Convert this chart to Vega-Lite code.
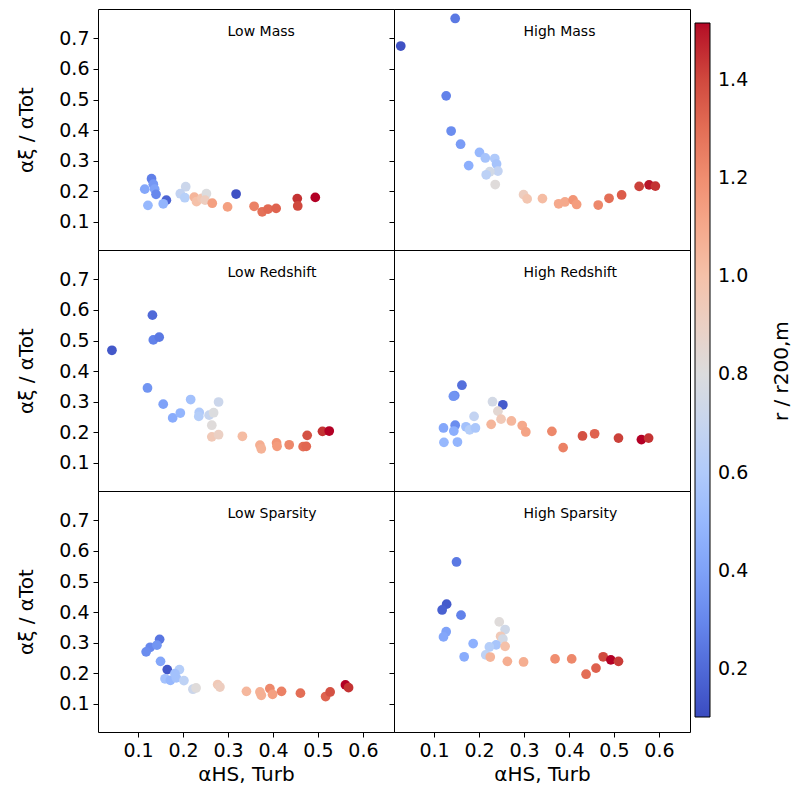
{
  "$schema": "https://vega.github.io/schema/vega-lite/v6.json",
  "background": "white",
  "padding": {"left": 16, "top": 8, "right": 0, "bottom": 0},
  "datasets": {
    "lm": [
      {"x":0.130,"y":0.241,"r":0.27},{"x":0.115,"y":0.207,"r":0.42},{"x":0.134,"y":0.223,"r":0.36},{"x":0.137,"y":0.207,"r":0.40},
      {"x":0.140,"y":0.190,"r":0.30},{"x":0.122,"y":0.154,"r":0.50},{"x":0.163,"y":0.171,"r":0.18},{"x":0.156,"y":0.159,"r":0.48},
      {"x":0.206,"y":0.215,"r":0.72},{"x":0.194,"y":0.192,"r":0.68},{"x":0.204,"y":0.179,"r":0.63},{"x":0.225,"y":0.181,"r":1.05},
      {"x":0.230,"y":0.166,"r":1.00},{"x":0.242,"y":0.177,"r":0.97},{"x":0.252,"y":0.192,"r":0.80},{"x":0.249,"y":0.171,"r":0.92},
      {"x":0.265,"y":0.161,"r":1.14},{"x":0.318,"y":0.191,"r":0.12},{"x":0.299,"y":0.149,"r":1.14},{"x":0.358,"y":0.151,"r":1.24},
      {"x":0.376,"y":0.133,"r":1.29},{"x":0.389,"y":0.142,"r":1.31},{"x":0.407,"y":0.144,"r":1.33},{"x":0.454,"y":0.176,"r":1.45},
      {"x":0.455,"y":0.152,"r":1.40},{"x":0.494,"y":0.180,"r":1.52}
    ],
    "hm": [
      {"x":0.026,"y":0.675,"r":0.12},{"x":0.147,"y":0.765,"r":0.25},{"x":0.127,"y":0.512,"r":0.28},{"x":0.138,"y":0.397,"r":0.32},
      {"x":0.159,"y":0.354,"r":0.38},{"x":0.177,"y":0.284,"r":0.45},{"x":0.201,"y":0.327,"r":0.50},{"x":0.214,"y":0.309,"r":0.56},
      {"x":0.235,"y":0.307,"r":0.60},{"x":0.239,"y":0.289,"r":0.56},{"x":0.242,"y":0.266,"r":0.68},{"x":0.224,"y":0.264,"r":0.75},
      {"x":0.216,"y":0.254,"r":0.65},{"x":0.236,"y":0.222,"r":0.82},{"x":0.299,"y":0.189,"r":0.92},{"x":0.307,"y":0.175,"r":0.97},
      {"x":0.341,"y":0.176,"r":1.02},{"x":0.377,"y":0.159,"r":1.10},{"x":0.391,"y":0.165,"r":1.10},{"x":0.409,"y":0.172,"r":1.18},
      {"x":0.417,"y":0.157,"r":1.15},{"x":0.465,"y":0.155,"r":1.22},{"x":0.489,"y":0.177,"r":1.30},{"x":0.517,"y":0.188,"r":1.35},
      {"x":0.556,"y":0.216,"r":1.42},{"x":0.578,"y":0.221,"r":1.50},{"x":0.592,"y":0.217,"r":1.45}
    ],
    "lr": [
      {"x":0.042,"y":0.468,"r":0.14},{"x":0.132,"y":0.583,"r":0.20},{"x":0.134,"y":0.502,"r":0.28},{"x":0.147,"y":0.511,"r":0.25},
      {"x":0.121,"y":0.345,"r":0.35},{"x":0.156,"y":0.292,"r":0.40},{"x":0.177,"y":0.247,"r":0.44},{"x":0.194,"y":0.263,"r":0.48},
      {"x":0.217,"y":0.307,"r":0.55},{"x":0.236,"y":0.265,"r":0.60},{"x":0.235,"y":0.252,"r":0.62},{"x":0.258,"y":0.256,"r":0.70},
      {"x":0.268,"y":0.264,"r":0.80},{"x":0.279,"y":0.299,"r":0.72},{"x":0.264,"y":0.223,"r":0.82},{"x":0.264,"y":0.185,"r":0.95},
      {"x":0.279,"y":0.192,"r":0.90},{"x":0.332,"y":0.187,"r":1.02},{"x":0.371,"y":0.158,"r":1.08},{"x":0.374,"y":0.146,"r":1.06},
      {"x":0.408,"y":0.165,"r":1.18},{"x":0.409,"y":0.154,"r":1.16},{"x":0.436,"y":0.159,"r":1.22},{"x":0.467,"y":0.153,"r":1.30},
      {"x":0.474,"y":0.154,"r":1.32},{"x":0.476,"y":0.190,"r":1.38},{"x":0.510,"y":0.203,"r":1.45},{"x":0.525,"y":0.204,"r":1.52}
    ],
    "hr": [
      {"x":0.162,"y":0.354,"r":0.22},{"x":0.146,"y":0.320,"r":0.32},{"x":0.143,"y":0.318,"r":0.35},{"x":0.253,"y":0.290,"r":0.15},
      {"x":0.230,"y":0.300,"r":0.76},{"x":0.242,"y":0.269,"r":0.85},{"x":0.189,"y":0.252,"r":0.68},{"x":0.121,"y":0.214,"r":0.42},
      {"x":0.147,"y":0.223,"r":0.32},{"x":0.144,"y":0.204,"r":0.45},{"x":0.171,"y":0.218,"r":0.55},{"x":0.179,"y":0.208,"r":0.62},
      {"x":0.192,"y":0.214,"r":0.58},{"x":0.122,"y":0.167,"r":0.50},{"x":0.152,"y":0.168,"r":0.48},{"x":0.227,"y":0.226,"r":1.05},
      {"x":0.249,"y":0.243,"r":0.95},{"x":0.272,"y":0.237,"r":1.04},{"x":0.296,"y":0.222,"r":1.10},{"x":0.304,"y":0.201,"r":1.12},
      {"x":0.362,"y":0.203,"r":1.22},{"x":0.387,"y":0.150,"r":1.24},{"x":0.430,"y":0.188,"r":1.38},{"x":0.457,"y":0.195,"r":1.33},
      {"x":0.510,"y":0.181,"r":1.42},{"x":0.561,"y":0.176,"r":1.52},{"x":0.577,"y":0.181,"r":1.45}
    ],
    "ls": [
      {"x":0.148,"y":0.311,"r":0.24},{"x":0.127,"y":0.285,"r":0.30},{"x":0.118,"y":0.270,"r":0.32},{"x":0.142,"y":0.292,"r":0.35},
      {"x":0.150,"y":0.239,"r":0.42},{"x":0.165,"y":0.212,"r":0.14},{"x":0.160,"y":0.182,"r":0.55},{"x":0.172,"y":0.177,"r":0.50},
      {"x":0.185,"y":0.185,"r":0.55},{"x":0.192,"y":0.212,"r":0.62},{"x":0.202,"y":0.176,"r":0.66},{"x":0.182,"y":0.199,"r":0.55},
      {"x":0.222,"y":0.148,"r":0.72},{"x":0.229,"y":0.152,"r":0.82},{"x":0.277,"y":0.163,"r":0.95},{"x":0.282,"y":0.155,"r":0.92},
      {"x":0.341,"y":0.141,"r":1.04},{"x":0.371,"y":0.139,"r":1.07},{"x":0.374,"y":0.128,"r":1.07},{"x":0.393,"y":0.150,"r":1.22},
      {"x":0.399,"y":0.131,"r":1.14},{"x":0.419,"y":0.141,"r":1.24},{"x":0.461,"y":0.135,"r":1.30},{"x":0.517,"y":0.124,"r":1.33},
      {"x":0.527,"y":0.139,"r":1.38},{"x":0.561,"y":0.162,"r":1.52},{"x":0.568,"y":0.153,"r":1.45}
    ],
    "hs": [
      {"x":0.150,"y":0.564,"r":0.25},{"x":0.128,"y":0.426,"r":0.15},{"x":0.118,"y":0.407,"r":0.17},{"x":0.160,"y":0.390,"r":0.28},
      {"x":0.127,"y":0.336,"r":0.40},{"x":0.121,"y":0.319,"r":0.42},{"x":0.187,"y":0.297,"r":0.46},{"x":0.167,"y":0.254,"r":0.44},
      {"x":0.245,"y":0.368,"r":0.82},{"x":0.258,"y":0.343,"r":0.74},{"x":0.248,"y":0.321,"r":0.95},{"x":0.253,"y":0.312,"r":0.76},
      {"x":0.238,"y":0.293,"r":0.57},{"x":0.223,"y":0.286,"r":0.62},{"x":0.215,"y":0.260,"r":0.66},{"x":0.258,"y":0.288,"r":1.00},
      {"x":0.225,"y":0.253,"r":1.05},{"x":0.263,"y":0.239,"r":1.08},{"x":0.299,"y":0.237,"r":1.08},{"x":0.369,"y":0.247,"r":1.20},
      {"x":0.406,"y":0.247,"r":1.22},{"x":0.438,"y":0.197,"r":1.30},{"x":0.460,"y":0.217,"r":1.34},{"x":0.476,"y":0.254,"r":1.40},
      {"x":0.493,"y":0.244,"r":1.52},{"x":0.510,"y":0.239,"r":1.43}
    ]
  },
  "columns": 2,
  "spacing": 0,
  "bounds": "flush",
  "concat": [
    {
      "width": 296, "height": 241,
      "layer": [
        {"data": {"name": "lm"}, "mark": {"type": "circle", "size": 95, "opacity": 1},
         "encoding": {
           "x": {"field": "x", "type": "quantitative", "scale": {"domain": [0.011, 0.669], "nice": false, "zero": false}, "axis": null},
           "y": {"field": "y", "type": "quantitative", "scale": {"domain": [0.008, 0.796], "nice": false, "zero": false},
                 "axis": {"values": [0.1,0.2,0.3,0.4,0.5,0.6,0.7], "format": ".1f", "title": "αξ / αTot"}},
           "color": {"field": "r", "type": "quantitative",
             "scale": {"domain": [0.102,0.27875,0.4555,0.63225,0.809,0.98575,1.1625,1.33925,1.516], "range": ["#3b4cc0","#6282ea","#8db0fe","#b8d0f9","#dddddd","#f5c4ad","#f49a7b","#de604d","#b40426"]},
             "legend": {"orient": "none", "legendX": 597, "legendY": 14, "direction": "vertical", "gradientLength": 694, "gradientThickness": 15,
               "gradientStrokeColor": "black", "gradientStrokeWidth": 1, "values": [0.2,0.4,0.6,0.8,1.0,1.2,1.4], "format": ".1f",
               "labelFontSize": 19, "labelFont": "DejaVu Sans", "labelColor": "black", "labelOffset": 8, "title": null}}
         }},
        {"data": {"values": [{"t": "Low Mass"}]}, "mark": {"type": "text", "fontSize": 14, "font": "DejaVu Sans", "align": "left", "baseline": "middle", "color": "black"},
         "encoding": {
           "x": {"datum": 0.299, "type": "quantitative", "axis": null},
           "y": {"datum": 0.72, "type": "quantitative", "axis": {"values": [0.1,0.2,0.3,0.4,0.5,0.6,0.7], "format": ".1f", "title": "αξ / αTot"}},
           "text": {"field": "t"}}}
      ]
    },
    {
      "width": 296, "height": 241,
      "layer": [
        {"data": {"name": "hm"}, "mark": {"type": "circle", "size": 95, "opacity": 1},
         "encoding": {
           "x": {"field": "x", "type": "quantitative", "scale": {"domain": [0.011, 0.669], "nice": false, "zero": false}, "axis": null},
           "y": {"field": "y", "type": "quantitative", "scale": {"domain": [0.008, 0.796], "nice": false, "zero": false},
                 "axis": {"values": [0.1,0.2,0.3,0.4,0.5,0.6,0.7], "labels": false, "title": null}},
           "color": {"field": "r", "type": "quantitative",
             "scale": {"domain": [0.102,0.27875,0.4555,0.63225,0.809,0.98575,1.1625,1.33925,1.516], "range": ["#3b4cc0","#6282ea","#8db0fe","#b8d0f9","#dddddd","#f5c4ad","#f49a7b","#de604d","#b40426"]},
             "legend": {"orient": "none", "legendX": 597, "legendY": 14, "direction": "vertical", "gradientLength": 694, "gradientThickness": 15,
               "gradientStrokeColor": "black", "gradientStrokeWidth": 1, "values": [0.2,0.4,0.6,0.8,1.0,1.2,1.4], "format": ".1f",
               "labelFontSize": 19, "labelFont": "DejaVu Sans", "labelColor": "black", "labelOffset": 8, "title": null}}
         }},
        {"data": {"values": [{"t": "High Mass"}]}, "mark": {"type": "text", "fontSize": 14, "font": "DejaVu Sans", "align": "left", "baseline": "middle", "color": "black"},
         "encoding": {
           "x": {"datum": 0.299, "type": "quantitative", "axis": null},
           "y": {"datum": 0.72, "type": "quantitative", "axis": {"values": [0.1,0.2,0.3,0.4,0.5,0.6,0.7], "labels": false, "title": null}},
           "text": {"field": "t"}}}
      ]
    },
    {
      "width": 296, "height": 241,
      "layer": [
        {"data": {"name": "lr"}, "mark": {"type": "circle", "size": 95, "opacity": 1},
         "encoding": {
           "x": {"field": "x", "type": "quantitative", "scale": {"domain": [0.011, 0.669], "nice": false, "zero": false}, "axis": null},
           "y": {"field": "y", "type": "quantitative", "scale": {"domain": [0.008, 0.796], "nice": false, "zero": false},
                 "axis": {"values": [0.1,0.2,0.3,0.4,0.5,0.6,0.7], "format": ".1f", "title": "αξ / αTot"}},
           "color": {"field": "r", "type": "quantitative",
             "scale": {"domain": [0.102,0.27875,0.4555,0.63225,0.809,0.98575,1.1625,1.33925,1.516], "range": ["#3b4cc0","#6282ea","#8db0fe","#b8d0f9","#dddddd","#f5c4ad","#f49a7b","#de604d","#b40426"]},
             "legend": {"orient": "none", "legendX": 597, "legendY": 14, "direction": "vertical", "gradientLength": 694, "gradientThickness": 15,
               "gradientStrokeColor": "black", "gradientStrokeWidth": 1, "values": [0.2,0.4,0.6,0.8,1.0,1.2,1.4], "format": ".1f",
               "labelFontSize": 19, "labelFont": "DejaVu Sans", "labelColor": "black", "labelOffset": 8, "title": null}}
         }},
        {"data": {"values": [{"t": "Low Redshift"}]}, "mark": {"type": "text", "fontSize": 14, "font": "DejaVu Sans", "align": "left", "baseline": "middle", "color": "black"},
         "encoding": {
           "x": {"datum": 0.299, "type": "quantitative", "axis": null},
           "y": {"datum": 0.72, "type": "quantitative", "axis": {"values": [0.1,0.2,0.3,0.4,0.5,0.6,0.7], "format": ".1f", "title": "αξ / αTot"}},
           "text": {"field": "t"}}}
      ]
    },
    {
      "width": 296, "height": 241,
      "layer": [
        {"data": {"name": "hr"}, "mark": {"type": "circle", "size": 95, "opacity": 1},
         "encoding": {
           "x": {"field": "x", "type": "quantitative", "scale": {"domain": [0.011, 0.669], "nice": false, "zero": false}, "axis": null},
           "y": {"field": "y", "type": "quantitative", "scale": {"domain": [0.008, 0.796], "nice": false, "zero": false},
                 "axis": {"values": [0.1,0.2,0.3,0.4,0.5,0.6,0.7], "labels": false, "title": null}},
           "color": {"field": "r", "type": "quantitative",
             "scale": {"domain": [0.102,0.27875,0.4555,0.63225,0.809,0.98575,1.1625,1.33925,1.516], "range": ["#3b4cc0","#6282ea","#8db0fe","#b8d0f9","#dddddd","#f5c4ad","#f49a7b","#de604d","#b40426"]},
             "legend": {"orient": "none", "legendX": 597, "legendY": 14, "direction": "vertical", "gradientLength": 694, "gradientThickness": 15,
               "gradientStrokeColor": "black", "gradientStrokeWidth": 1, "values": [0.2,0.4,0.6,0.8,1.0,1.2,1.4], "format": ".1f",
               "labelFontSize": 19, "labelFont": "DejaVu Sans", "labelColor": "black", "labelOffset": 8, "title": null}}
         }},
        {"data": {"values": [{"t": "High Redshift"}]}, "mark": {"type": "text", "fontSize": 14, "font": "DejaVu Sans", "align": "left", "baseline": "middle", "color": "black"},
         "encoding": {
           "x": {"datum": 0.299, "type": "quantitative", "axis": null},
           "y": {"datum": 0.72, "type": "quantitative", "axis": {"values": [0.1,0.2,0.3,0.4,0.5,0.6,0.7], "labels": false, "title": null}},
           "text": {"field": "t"}}},
        {"data": {"values": [{"t": "r / r200,m"}]}, "mark": {"type": "text", "fontSize": 20, "font": "DejaVu Sans", "align": "center", "baseline": "middle", "angle": 270, "color": "black"},
         "encoding": {
           "x": {"datum": 0.874, "type": "quantitative", "axis": null},
           "y": {"datum": 0.40, "type": "quantitative", "axis": {"values": [0.1,0.2,0.3,0.4,0.5,0.6,0.7], "labels": false, "title": null}},
           "text": {"field": "t"}}}
      ]
    },
    {
      "width": 296, "height": 241,
      "layer": [
        {"data": {"name": "ls"}, "mark": {"type": "circle", "size": 95, "opacity": 1},
         "encoding": {
           "x": {"field": "x", "type": "quantitative", "scale": {"domain": [0.011, 0.669], "nice": false, "zero": false},
                 "axis": {"values": [0.1,0.2,0.3,0.4,0.5,0.6], "format": ".1f", "title": "αHS, Turb"}},
           "y": {"field": "y", "type": "quantitative", "scale": {"domain": [0.008, 0.796], "nice": false, "zero": false},
                 "axis": {"values": [0.1,0.2,0.3,0.4,0.5,0.6,0.7], "format": ".1f", "title": "αξ / αTot"}},
           "color": {"field": "r", "type": "quantitative",
             "scale": {"domain": [0.102,0.27875,0.4555,0.63225,0.809,0.98575,1.1625,1.33925,1.516], "range": ["#3b4cc0","#6282ea","#8db0fe","#b8d0f9","#dddddd","#f5c4ad","#f49a7b","#de604d","#b40426"]},
             "legend": {"orient": "none", "legendX": 597, "legendY": 14, "direction": "vertical", "gradientLength": 694, "gradientThickness": 15,
               "gradientStrokeColor": "black", "gradientStrokeWidth": 1, "values": [0.2,0.4,0.6,0.8,1.0,1.2,1.4], "format": ".1f",
               "labelFontSize": 19, "labelFont": "DejaVu Sans", "labelColor": "black", "labelOffset": 8, "title": null}}
         }},
        {"data": {"values": [{"t": "Low Sparsity"}]}, "mark": {"type": "text", "fontSize": 14, "font": "DejaVu Sans", "align": "left", "baseline": "middle", "color": "black"},
         "encoding": {
           "x": {"datum": 0.299, "type": "quantitative", "axis": {"values": [0.1,0.2,0.3,0.4,0.5,0.6], "format": ".1f", "title": "αHS, Turb"}},
           "y": {"datum": 0.72, "type": "quantitative", "axis": {"values": [0.1,0.2,0.3,0.4,0.5,0.6,0.7], "format": ".1f", "title": "αξ / αTot"}},
           "text": {"field": "t"}}}
      ]
    },
    {
      "width": 296, "height": 241,
      "layer": [
        {"data": {"name": "hs"}, "mark": {"type": "circle", "size": 95, "opacity": 1},
         "encoding": {
           "x": {"field": "x", "type": "quantitative", "scale": {"domain": [0.011, 0.669], "nice": false, "zero": false},
                 "axis": {"values": [0.1,0.2,0.3,0.4,0.5,0.6], "format": ".1f", "title": "αHS, Turb"}},
           "y": {"field": "y", "type": "quantitative", "scale": {"domain": [0.008, 0.796], "nice": false, "zero": false},
                 "axis": {"values": [0.1,0.2,0.3,0.4,0.5,0.6,0.7], "labels": false, "title": null}},
           "color": {"field": "r", "type": "quantitative",
             "scale": {"domain": [0.102,0.27875,0.4555,0.63225,0.809,0.98575,1.1625,1.33925,1.516], "range": ["#3b4cc0","#6282ea","#8db0fe","#b8d0f9","#dddddd","#f5c4ad","#f49a7b","#de604d","#b40426"]},
             "legend": {"orient": "none", "legendX": 597, "legendY": 14, "direction": "vertical", "gradientLength": 694, "gradientThickness": 15,
               "gradientStrokeColor": "black", "gradientStrokeWidth": 1, "values": [0.2,0.4,0.6,0.8,1.0,1.2,1.4], "format": ".1f",
               "labelFontSize": 19, "labelFont": "DejaVu Sans", "labelColor": "black", "labelOffset": 8, "title": null}}
         }},
        {"data": {"values": [{"t": "High Sparsity"}]}, "mark": {"type": "text", "fontSize": 14, "font": "DejaVu Sans", "align": "left", "baseline": "middle", "color": "black"},
         "encoding": {
           "x": {"datum": 0.299, "type": "quantitative", "axis": {"values": [0.1,0.2,0.3,0.4,0.5,0.6], "format": ".1f", "title": "αHS, Turb"}},
           "y": {"datum": 0.72, "type": "quantitative", "axis": {"values": [0.1,0.2,0.3,0.4,0.5,0.6,0.7], "labels": false, "title": null}},
           "text": {"field": "t"}}}
      ]
    }
  ],
  "config": {
    "view": {"stroke": "black", "strokeWidth": 1},
    "axis": {
      "domain": false, "grid": false, "ticks": true, "tickColor": "black", "tickSize": 5, "tickWidth": 1,
      "labelFont": "DejaVu Sans", "labelFontSize": 19, "labelColor": "black", "labelPadding": 4,
      "titleFont": "DejaVu Sans", "titleFontSize": 20, "titleFontWeight": "normal", "titleColor": "black"
    },
    "axisY": {"titlePadding": 22},
    "axisX": {"titlePadding": 4}
  }
}
